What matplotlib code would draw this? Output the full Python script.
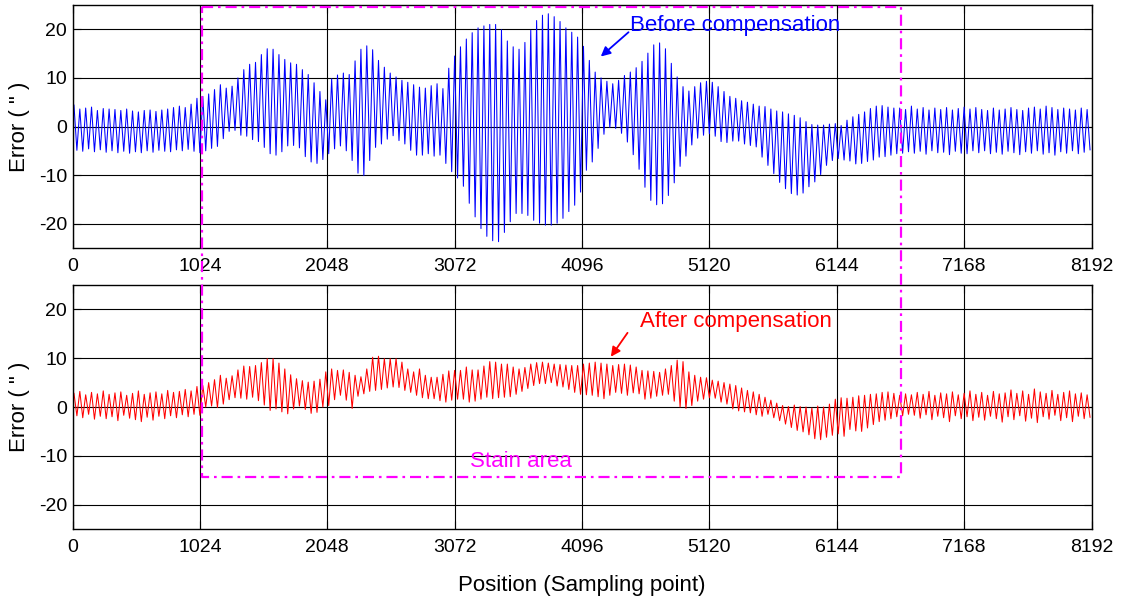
import numpy as np
import matplotlib
matplotlib.use("Agg")
import matplotlib.pyplot as plt
from matplotlib.lines import Line2D

plt.rcParams['font.family'] = ['Liberation Sans', 'DejaVu Sans']

# ---- data -------------------------------------------------------------
n_samples = 8192
xticks = [0, 1024, 2048, 3072, 4096, 5120, 6144, 7168, 8192]
yticks = [-20, -10, 0, 10, 20]

# per-cycle peak (max) and trough (min) of the error before compensation
before_max = [
    4.4, 3.6, 3.8, 4.0, 3.3, 3.7, 3.6, 3.5, 3.3, 3.6, 3.2, 3.0, 3.3, 3.4, 3.1, 3.4, 3.6, 3.9, 4.2, 3.9, 4.6, 5.8,
    6.2, 6.7, 7.6, 8.6, 7.9, 8.3, 10.0, 11.7, 12.8, 13.2, 14.8, 16.0, 15.9, 14.8, 13.8, 13.1, 12.8, 11.7, 10.7, 9.0, 7.2, 5.5,
    9.8, 10.6, 11.0, 10.7, 13.5, 15.9, 16.6, 15.8, 13.6, 12.2, 11.0, 10.2, 9.5, 9.1, 8.6, 8.1, 7.9, 8.4, 8.8, 7.8, 12.0, 14.5,
    16.4, 18.0, 19.3, 20.3, 20.7, 21.0, 21.0, 19.9, 17.6, 16.4, 15.9, 17.3, 19.8, 21.8, 22.9, 23.2, 22.6, 21.6, 20.3, 19.4, 18.4, 16.5,
    13.6, 11.2, 10.0, 9.3, 8.8, 9.5, 10.5, 11.2, 12.1, 13.4, 15.1, 16.8, 17.2, 16.0, 13.0, 10.2, 8.2, 7.3, 8.2, 9.0, 9.3, 9.1,
    8.2, 7.2, 6.2, 5.8, 5.3, 5.0, 4.6, 4.2, 4.1, 3.6, 3.2, 3.0, 2.6, 2.3, 1.8, 1.0, 0.4, 0.3, 0.3, 0.5, 0.6, 0.2,
    1.3, 2.0, 2.5, 3.0, 3.7, 4.2, 4.3, 4.0, 3.8, 3.8, 3.5, 4.2, 3.6, 3.9, 3.4, 3.8, 3.5, 3.9, 3.4, 3.7, 4.0, 3.6,
    3.9, 3.5, 3.3, 3.8, 3.4, 3.6, 3.9, 3.5, 3.3, 3.8, 4.0, 3.6, 4.2, 3.9, 3.5, 3.8, 3.6, 3.4, 3.8, 3.5,
]
before_min = [
    -4.9, -5.1, -4.6, -5.2, -4.8, -5.3, -5.0, -5.4, -5.1, -5.5, -5.2, -5.4, -5.0, -5.3, -4.9, -5.1, -5.2, -4.8, -5.0, -4.7, -5.1, -5.4,
    -5.0, -4.5, -4.1, -2.5, -1.0, -0.8, -1.8, -2.0, -2.7, -3.1, -4.3, -5.6, -5.9, -5.2, -4.0, -3.9, -4.4, -6.2, -7.3, -7.6, -6.8, -5.6,
    -4.6, -4.0, -5.0, -7.0, -9.6, -10.1, -7.0, -4.3, -3.6, -2.6, -1.9, -2.9, -3.6, -4.9, -5.9, -5.9, -5.6, -6.1, -5.9, -7.6, -9.3, -10.6,
    -12.3, -15.8, -18.6, -21.0, -22.6, -23.5, -23.7, -21.8, -19.6, -17.9, -17.9, -18.3, -19.3, -19.9, -20.3, -20.3, -19.9, -18.9, -17.5, -16.2, -13.5, -9.0,
    -7.3, -4.5, -1.6, -0.2, -0.4, -1.4, -3.2, -5.8, -8.8, -12.5, -15.2, -16.1, -15.9, -14.2, -11.6, -8.2, -6.1, -3.8, -2.4, -1.8, -1.5, -2.0,
    -3.1, -3.3, -3.0, -3.0, -3.6, -3.9, -4.2, -6.3, -8.0, -9.7, -11.5, -12.8, -13.8, -14.1, -13.7, -12.4, -11.4, -9.9, -8.0, -7.0, -6.6, -6.9,
    -7.1, -7.7, -7.6, -7.2, -6.9, -6.3, -6.2, -5.9, -5.6, -5.5, -5.2, -5.5, -5.1, -5.7, -5.0, -5.4, -5.3, -5.8, -5.1, -5.5, -5.6, -5.0,
    -5.4, -5.0, -5.6, -5.3, -5.7, -5.1, -5.4, -5.8, -5.2, -5.5, -5.0, -5.7, -5.4, -5.9, -5.2, -5.5, -5.0, -5.6, -5.3, -4.8,
]

# per-cycle peak (max) and trough (min) of the error after compensation
after_max = [
    2.8, 3.2, 2.5, 3.0, 2.7, 3.3, 2.6, 2.9, 3.1, 2.4, 2.8, 3.3, 2.6, 2.9, 3.1, 2.7, 3.4, 3.0, 3.2, 3.6, 3.3, 4.2,
    4.4, 5.0, 5.6, 6.5, 5.9, 6.4, 7.6, 8.4, 8.3, 8.5, 9.1, 9.9, 9.9, 9.0, 7.8, 6.6, 5.8, 5.4, 5.1, 5.3, 5.7, 7.2,
    7.8, 7.5, 7.6, 7.1, 6.5, 6.2, 7.8, 10.2, 10.4, 9.9, 9.9, 9.9, 9.2, 7.8, 7.2, 7.8, 6.5, 6.1, 6.1, 6.7, 7.4, 7.5,
    7.5, 8.2, 7.6, 7.6, 8.4, 9.3, 9.2, 8.8, 8.8, 8.2, 7.8, 8.1, 8.8, 9.1, 9.2, 9.0, 8.8, 8.7, 8.6, 8.5, 8.5, 8.8,
    9.0, 9.2, 9.0, 8.8, 8.5, 8.7, 8.8, 8.6, 8.2, 7.5, 7.4, 7.3, 7.1, 7.8, 8.5, 9.6, 9.3, 7.2, 6.5, 6.1, 6.0, 5.5,
    5.3, 5.0, 4.7, 4.4, 3.9, 3.4, 3.1, 2.6, 2.0, 1.4, 0.8, 0.3, 0.1, 0.4, 0.1, 0.0, -0.2, 0.2, 0.0, 0.6, 1.6, 1.9,
    1.8, 2.0, 2.3, 2.4, 2.6, 2.7, 3.0, 3.1, 2.8, 2.4, 2.7, 2.5, 3.0, 2.6, 3.2, 2.4, 2.9, 2.7, 3.1, 2.5, 2.8, 3.3,
    2.6, 3.0, 2.4, 3.2, 2.7, 2.9, 3.5, 2.8, 3.3, 2.6, 3.7, 3.1, 2.8, 3.4, 2.6, 3.0, 3.3, 2.7, 2.9, 2.5,
]
after_min = [
    -1.8, -2.2, -1.5, -2.5, -1.9, -2.4, -2.0, -2.8, -1.7, -2.3, -2.6, -3.0, -2.1, -2.7, -1.9, -2.4, -1.8, -2.2, -1.6, -2.0, -1.5, -1.7,
    0.0, 0.2, -0.1, 0.6, 1.5, 1.9, 1.8, 1.6, 2.0, 1.3, 0.4, -0.7, -0.4, -1.0, -1.4, -0.4, 0.2, -0.5, -1.3, -1.1, 0.0, 0.3,
    1.5, 2.4, 1.4, -0.3, 2.2, 2.7, 3.2, 3.4, 3.6, 3.9, 4.1, 4.0, 3.4, 3.0, 2.4, 1.9, 1.7, 1.7, 1.3, 1.0, 1.4, 1.6,
    1.6, 1.0, 1.2, 1.6, 2.0, 1.7, 1.9, 2.0, 2.1, 2.6, 3.2, 3.8, 4.4, 4.8, 4.8, 5.0, 4.3, 4.1, 3.6, 3.0, 2.6, 2.5,
    2.4, 2.1, 1.7, 2.4, 3.0, 2.8, 2.4, 2.9, 2.7, 1.6, 1.8, 2.2, 2.4, 2.6, 1.2, 0.0, -0.3, 0.3, 1.2, 1.6, 1.9, 1.8,
    1.0, 0.6, -0.4, -0.8, -1.0, -1.2, -1.6, -1.9, -1.5, -2.2, -2.8, -3.5, -4.2, -4.8, -5.1, -5.7, -6.5, -6.7, -6.2, -5.8, -5.5, -6.0,
    -4.6, -4.9, -5.0, -4.3, -3.6, -3.0, -2.7, -2.4, -2.0, -1.8, -1.5, -1.7, -2.3, -1.6, -2.6, -1.9, -2.2, -3.0, -1.8, -2.4, -2.0, -2.8,
    -2.1, -2.7, -1.9, -2.4, -3.1, -2.0, -2.6, -1.8, -2.9, -2.3, -3.2, -2.0, -2.5, -1.7, -2.8, -2.2, -3.0, -1.9, -2.4, -2.1,
]

# region of the stain (sample range; top in upper-panel units, bottom in lower-panel units)
stain_x = [1040, 6664]
stain_top = 24.6
stain_bottom = -14.3


def zigzag(peaks, troughs):
    """Interleave per-cycle extremes and place them on the sampling axis."""
    peaks = np.asarray(peaks, float)
    troughs = np.asarray(troughs, float)
    n = len(peaks)
    period = n_samples / n
    k = np.arange(n)
    x = np.empty(2 * n)
    y = np.empty(2 * n)
    x[0::2] = (k + 0.25) * period
    x[1::2] = (k + 0.75) * period
    y[0::2] = peaks
    y[1::2] = troughs
    return x, y


# ---- figure -----------------------------------------------------------
W, H = 1122, 599
fig = plt.figure(figsize=(W / 100, H / 100), dpi=100)


def px_axes(left, top, right, bottom):
    return fig.add_axes([left / W, 1 - bottom / H, (right - left) / W, (bottom - top) / H])


ax1 = px_axes(72.5, 5, 1091.5, 248)
ax2 = px_axes(72.5, 285, 1091.5, 529)

xb, yb = zigzag(before_max, before_min)
xa, ya = zigzag(after_max, after_min)
ax1.plot(xb, yb, color='#0000ff', lw=0.75)
ax2.plot(xa, ya, color='#ff0000', lw=0.75)

for ax in (ax1, ax2):
    ax.set_xlim(0, n_samples)
    ax.set_ylim(-25, 25)
    ax.set_xticks(xticks)
    ax.set_yticks(yticks)
    ax.set_xticklabels([str(t) for t in xticks])
    ax.set_yticklabels([str(t) for t in yticks])
    ax.grid(True, color='black', lw=0.8, ls='-')
    ax.set_axisbelow(True)
    ax.tick_params(direction='in', length=6, width=0.8, top=True, right=True,
                   labelsize=14, colors='black')
    ax.tick_params(axis='x', pad=7)
    ax.tick_params(axis='y', pad=4)
    for sp in ax.spines.values():
        sp.set_linewidth(1.0)
        sp.set_color('black')
    ax.set_ylabel('Error ( " )', fontsize=16, labelpad=6)

ax2.set_xlabel('Position (Sampling point)', fontsize=16, labelpad=14)

# annotations
ax1.annotate('', xy=(4247, 14.4), xytext=(4470, 19.4),
             arrowprops=dict(arrowstyle='-|>', color='#0000ff', lw=1.3,
                             mutation_scale=14, shrinkA=0, shrinkB=0))
ax1.text(4480, 20.8, 'Before compensation', color='#0000ff', fontsize=16,
         ha='left', va='center')

ax2.annotate('', xy=(4328, 10.3), xytext=(4462, 15.2),
             arrowprops=dict(arrowstyle='-|>', color='#ff0000', lw=1.3,
                             mutation_scale=14, shrinkA=0, shrinkB=0))
ax2.text(4561, 17.5, 'After compensation', color='#ff0000', fontsize=16,
         ha='left', va='center')

ax2.text(3195, -11.1, 'Stain area', color='#ff00ff', fontsize=16,
         ha='left', va='center')

# stain area frame spanning both panels
inv = fig.transFigure.inverted()
tl = inv.transform(ax1.transData.transform((stain_x[0], stain_top)))
tr = inv.transform(ax1.transData.transform((stain_x[1], stain_top)))
bl = inv.transform(ax2.transData.transform((stain_x[0], stain_bottom)))
br = inv.transform(ax2.transData.transform((stain_x[1], stain_bottom)))
xs = [tl[0], tr[0], br[0], bl[0], tl[0]]
ys = [tl[1], tr[1], br[1], bl[1], tl[1]]
fig.add_artist(Line2D(xs, ys, transform=fig.transFigure, color='#ff00ff',
                      lw=1.6, ls=(0, (5, 2.2, 1.2, 2.2)), zorder=10))

fig.savefig('out.png', dpi=100)
